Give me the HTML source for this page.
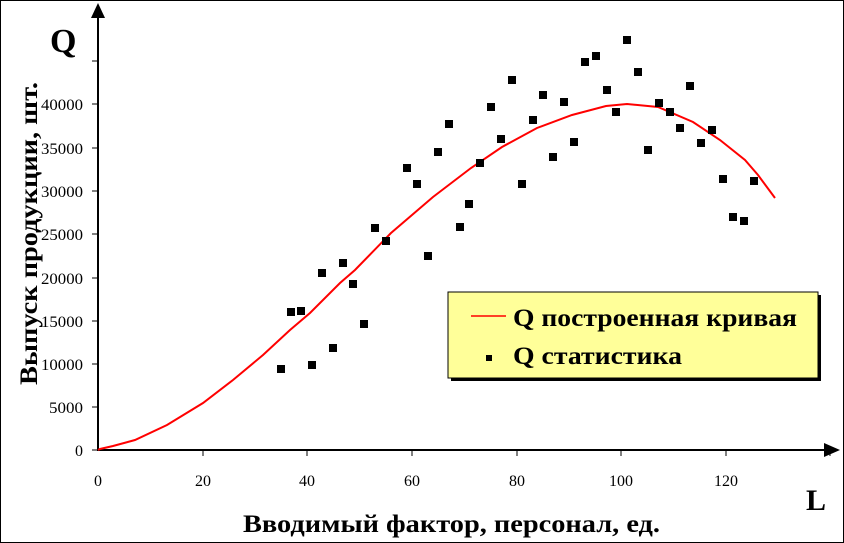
<!DOCTYPE html>
<html><head><meta charset="utf-8"><style>
body{margin:0;background:#fff}
svg{display:block;font-family:"Liberation Serif","DejaVu Serif",serif}
</style></head><body>
<svg width="844" height="543" viewBox="0 0 844 543" xmlns="http://www.w3.org/2000/svg">
<rect x="0.5" y="0.5" width="843" height="542" fill="#fff" stroke="#000"/>
<line x1="98" y1="451" x2="98" y2="14" stroke="#000" stroke-width="2"/>
<polygon points="98,3 91,18 105,18" fill="#000"/>
<line x1="97" y1="450" x2="826" y2="450" stroke="#000" stroke-width="2"/>
<polygon points="840,450 824,443 824,457" fill="#000"/>
<g stroke="#000" stroke-width="1">
<line x1="92" y1="450" x2="98" y2="450"/><line x1="92" y1="407" x2="98" y2="407"/>
<line x1="92" y1="364" x2="98" y2="364"/><line x1="92" y1="321" x2="98" y2="321"/>
<line x1="92" y1="278" x2="98" y2="278"/><line x1="92" y1="234" x2="98" y2="234"/>
<line x1="92" y1="191" x2="98" y2="191"/><line x1="92" y1="148" x2="98" y2="148"/>
<line x1="92" y1="104" x2="98" y2="104"/><line x1="92" y1="61" x2="98" y2="61"/>
<line x1="203" y1="450" x2="203" y2="456"/><line x1="307" y1="450" x2="307" y2="456"/>
<line x1="412" y1="450" x2="412" y2="456"/><line x1="517" y1="450" x2="517" y2="456"/>
<line x1="621" y1="450" x2="621" y2="456"/><line x1="726" y1="450" x2="726" y2="456"/>
<line x1="830" y1="450" x2="830" y2="456"/>
</g>
<g font-size="16" text-anchor="end">
<text x="83" y="456">0</text>
<text x="83" y="413" textLength="34" lengthAdjust="spacingAndGlyphs">5000</text>
<text x="83" y="370" textLength="42" lengthAdjust="spacingAndGlyphs">10000</text>
<text x="83" y="327" textLength="42" lengthAdjust="spacingAndGlyphs">15000</text>
<text x="83" y="284" textLength="42" lengthAdjust="spacingAndGlyphs">20000</text>
<text x="83" y="240" textLength="42" lengthAdjust="spacingAndGlyphs">25000</text>
<text x="83" y="197" textLength="42" lengthAdjust="spacingAndGlyphs">30000</text>
<text x="83" y="154" textLength="42" lengthAdjust="spacingAndGlyphs">35000</text>
<text x="83" y="110" textLength="42" lengthAdjust="spacingAndGlyphs">40000</text>
</g>
<g font-size="16" text-anchor="middle">
<text x="98" y="486">0</text><text x="203" y="486">20</text><text x="307" y="486">40</text>
<text x="412" y="486">60</text><text x="517" y="486">80</text><text x="621" y="486">100</text>
<text x="726" y="486">120</text>
</g>
<text x="50" y="52" font-size="34" font-weight="bold">Q</text>
<text x="806" y="510" font-size="30" font-weight="bold">L</text>
<text x="243" y="532" font-size="25" font-weight="bold" textLength="417" lengthAdjust="spacingAndGlyphs">Вводимый фактор, персонал, ед.</text>
<text transform="translate(37,385) rotate(-90)" font-size="25" font-weight="bold" textLength="303" lengthAdjust="spacingAndGlyphs">Выпуск продукции, шт.</text>
<polyline fill="none" stroke="#f00" stroke-width="2" points="98,450 100,449 113,446 135,440 167,425 203,403 233,380 263,355 290,330 310,313 340,283 355,270 391,233 433,197 471,168 502,147 537,128 572,115 606,106 627,104 658,107 693,122 720,140 745,160 758,175 775,198"/>
<g fill="#000">
<rect x="277" y="365" width="8" height="8"/><rect x="287" y="308" width="8" height="8"/>
<rect x="297" y="307" width="8" height="8"/><rect x="308" y="361" width="8" height="8"/>
<rect x="318" y="269" width="8" height="8"/><rect x="329" y="344" width="8" height="8"/>
<rect x="339" y="259" width="8" height="8"/><rect x="349" y="280" width="8" height="8"/>
<rect x="360" y="320" width="8" height="8"/><rect x="371" y="224" width="8" height="8"/>
<rect x="382" y="237" width="8" height="8"/><rect x="403" y="164" width="8" height="8"/>
<rect x="413" y="180" width="8" height="8"/><rect x="424" y="252" width="8" height="8"/>
<rect x="434" y="148" width="8" height="8"/><rect x="445" y="120" width="8" height="8"/>
<rect x="456" y="223" width="8" height="8"/><rect x="465" y="200" width="8" height="8"/>
<rect x="476" y="159" width="8" height="8"/><rect x="487" y="103" width="8" height="8"/>
<rect x="497" y="135" width="8" height="8"/><rect x="508" y="76" width="8" height="8"/>
<rect x="518" y="180" width="8" height="8"/><rect x="529" y="116" width="8" height="8"/>
<rect x="539" y="91" width="8" height="8"/><rect x="549" y="153" width="8" height="8"/>
<rect x="560" y="98" width="8" height="8"/><rect x="570" y="138" width="8" height="8"/>
<rect x="581" y="58" width="8" height="8"/><rect x="592" y="52" width="8" height="8"/>
<rect x="603" y="86" width="8" height="8"/><rect x="612" y="108" width="8" height="8"/>
<rect x="623" y="36" width="8" height="8"/><rect x="634" y="68" width="8" height="8"/>
<rect x="644" y="146" width="8" height="8"/><rect x="655" y="99" width="8" height="8"/>
<rect x="666" y="108" width="8" height="8"/><rect x="676" y="124" width="8" height="8"/>
<rect x="686" y="82" width="8" height="8"/><rect x="697" y="139" width="8" height="8"/>
<rect x="708" y="126" width="8" height="8"/><rect x="719" y="175" width="8" height="8"/>
<rect x="729" y="213" width="8" height="8"/><rect x="740" y="217" width="8" height="8"/>
<rect x="750" y="177" width="8" height="8"/>
</g>
<rect x="451" y="295" width="370" height="86" fill="#000"/>
<rect x="448" y="292" width="370" height="86" fill="#ffff99" stroke="#000" stroke-width="1"/>
<line x1="471" y1="316" x2="506" y2="316" stroke="#f00" stroke-width="1.5"/>
<text x="513" y="326" font-size="25" font-weight="bold" textLength="284" lengthAdjust="spacingAndGlyphs">Q построенная кривая</text>
<rect x="486" y="355" width="6" height="6" fill="#000"/>
<text x="513" y="364" font-size="25" font-weight="bold" textLength="169" lengthAdjust="spacingAndGlyphs">Q статистика</text>
</svg>
</body></html>
